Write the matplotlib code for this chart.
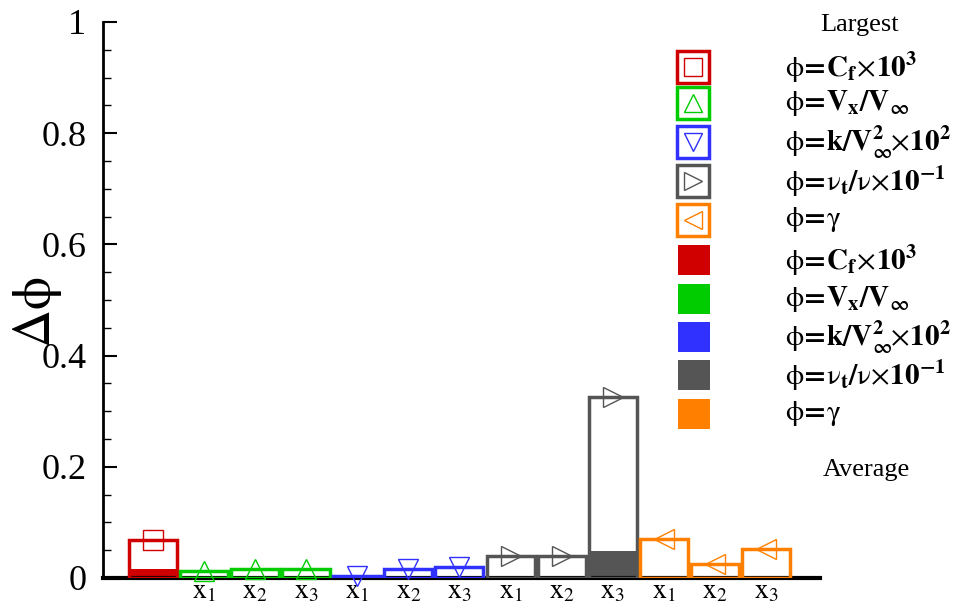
import matplotlib
matplotlib.use('Agg')
import matplotlib.pyplot as plt
from matplotlib.patches import Rectangle
from matplotlib.ticker import MultipleLocator
import numpy as np

plt.rcParams['font.family'] = ['Liberation Serif', 'DejaVu Serif']
plt.rcParams['mathtext.fontset'] = 'stix'

# -- DATA --
quantities = ['Cf', 'Vx', 'k', 'nut', 'gamma']
colors = ['#d00000', '#00cc00', '#3030ff', '#555555', '#ff8000']
markers = ['s', '^', 'v', '>', '<']
bar_group = [0, 1, 1, 1, 2, 2, 2, 3, 3, 3, 4, 4, 4]
tick_labels = [r'$\mathrm{x}_{1}$', r'$\mathrm{x}_{2}$', r'$\mathrm{x}_{3}$'] * 4
largest = [0.068, 0.012, 0.017, 0.016, 0.003, 0.017, 0.019,
           0.040, 0.040, 0.326, 0.070, 0.025, 0.053]
average = [0.017, 0.002, 0.002, 0.002, 0.001, 0.002, 0.002,
           0.002, 0.002, 0.048, 0.002, 0.002, 0.002]

EQ = r'\!\mathbf{=}\!'
TIMES = r'\!\times\!'
legend_labels = [
    r'$\mathrm{\phi}' + EQ + r'\mathbf{C_f}' + TIMES + r'\mathbf{10^3}$',
    r'$\mathrm{\phi}' + EQ + r'\mathbf{V_x/V_\infty}$',
    r'$\mathrm{\phi}' + EQ + r'\mathbf{k/V^2_\infty}\!' + TIMES + r'\mathbf{10^2}$',
    r'$\mathrm{\phi}' + EQ + r'\mathrm{\nu}_{\mathbf{t}}\mathbf{/}\mathrm{\nu}' + TIMES
    + r'\mathbf{10^{-1}}$',
    r'$\mathrm{\phi}' + EQ + r'\mathrm{\gamma}$',
]

# -- PLOT --
fig = plt.figure(figsize=(9.59, 6.07), dpi=100)
ax = fig.add_axes([103 / 959, 1 - 578 / 607, (820 - 103) / 959, (578 - 22) / 607])

x = np.arange(len(largest))
bar_colors = [colors[g] for g in bar_group]

ax.bar(x, largest, width=0.94, color='white', edgecolor='none', zorder=1)
ax.bar(x, average, width=0.94, color=bar_colors, edgecolor='none', zorder=2)
ax.bar(x, largest, width=0.94, fill=False, edgecolor=bar_colors,
       linewidth=2.5, zorder=3)
for i in range(len(x)):
    ax.plot(x[i], largest[i], marker=markers[bar_group[i]], ms=15,
            mfc='none', mec=bar_colors[i], mew=1, zorder=4, clip_on=False)

ax.set_xlim(-0.98, 13.06)
ax.set_ylim(0, 1)
ax.set_xticks(x[1:])
ax.set_xticklabels(tick_labels, fontsize=20)
ax.tick_params(axis='x', length=0, pad=1)
ax.yaxis.set_major_locator(MultipleLocator(0.2))
ax.yaxis.set_minor_locator(MultipleLocator(0.05))
ax.set_yticks([0, 0.2, 0.4, 0.6, 0.8, 1.0])
ax.set_yticklabels(['0', '0.2', '0.4', '0.6', '0.8', '1'], fontsize=26)
ax.tick_params(axis='y', which='major', direction='in', length=10, width=1.5, pad=12)
ax.tick_params(axis='y', which='minor', direction='in', length=6, width=1)
ax.spines['top'].set_visible(False)
ax.spines['right'].set_visible(False)
ax.spines['left'].set_linewidth(2)
ax.spines['bottom'].set_linewidth(3)
ax.set_ylabel(r'$\Delta\mathrm{\phi}$', fontsize=38)
ax.yaxis.set_label_coords((64 - 103) / 717, (578 - 312) / 556)

# -- LEGEND (drawn in pixel coordinates) --
lax = fig.add_axes([0, 0, 1, 1], zorder=5)
lax.set_xlim(0, 959)
lax.set_ylim(607, 0)
lax.axis('off')

lax.text(860, 25, 'Largest', fontsize=19, ha='center', va='center')
lax.text(866, 470, 'Average', fontsize=19, ha='center', va='center')

rows_hollow = [67, 103, 142, 181, 220]
rows_filled = [260, 299, 337, 375, 414]
for i, c in enumerate(colors):
    yy = rows_hollow[i]
    lax.add_patch(Rectangle((677, yy - 16), 32, 32, facecolor='white',
                            edgecolor=c, linewidth=2.5))
    lax.plot(693, yy, marker=markers[i], ms=13, mfc='none', mec=c, mew=1)
    lax.text(785, yy, legend_labels[i], fontsize=21, ha='left', va='center')

    yy = rows_filled[i]
    lax.add_patch(Rectangle((678, yy - 15), 32, 30, facecolor=c,
                            edgecolor='none'))
    lax.text(785, yy, legend_labels[i], fontsize=21, ha='left', va='center')

fig.savefig('out.png', dpi=100)
